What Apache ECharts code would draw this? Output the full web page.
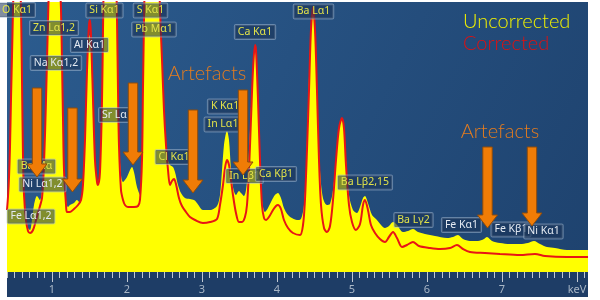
<!DOCTYPE html>
<html><head><meta charset="utf-8">
<script src="https://cdn.jsdelivr.net/npm/echarts@6/dist/echarts.min.js"></script>
<style>html,body{margin:0;padding:0;background:#fff}#c{width:600px;height:300px}</style>
</head><body><div id="c"></div><script>
// [keV, counts (arbitrary units)]
const uncorrected = [[0.400,65],[0.413,77],[0.427,97],[0.440,127],[0.453,172],[0.467,217],[0.480,262],[0.493,302],[0.533,422],[0.573,302],[0.587,262],[0.600,192],[0.613,122],[0.627,82],[0.653,57],[0.680,44],[0.707,42],[0.733,52],[0.760,67],[0.800,76],[0.840,72],[0.867,82],[0.893,112],[0.920,172],[0.947,252],[0.973,322],[1.040,472],[1.093,322],[1.120,262],[1.133,212],[1.147,152],[1.160,107],[1.187,72],[1.213,65],[1.240,67],[1.293,69],[1.333,72],[1.373,69],[1.400,77],[1.427,112],[1.453,172],[1.480,222],[1.500,237],[1.520,222],[1.547,162],[1.573,112],[1.600,92],[1.613,90],[1.640,102],[1.667,172],[1.680,242],[1.693,302],[1.773,522],[1.853,302],[1.867,252],[1.880,182],[1.893,132],[1.920,97],[1.947,90],[2.000,95],[2.040,102],[2.067,105],[2.093,100],[2.133,85],[2.173,77],[2.200,112],[2.213,182],[2.227,252],[2.240,302],[2.333,572],[2.427,302],[2.440,262],[2.467,212],[2.493,162],[2.520,127],[2.547,112],[2.573,107],[2.613,105],[2.640,100],[2.680,87],[2.720,79],[2.773,74],[2.840,73],[2.893,72],[2.933,69],[3.013,62],[3.107,62],[3.200,66],[3.240,77],[3.267,102],[3.293,127],[3.320,139],[3.333,141],[3.360,132],[3.387,102],[3.413,85],[3.453,77],[3.493,81],[3.520,79],[3.560,76],[3.587,82],[3.613,102],[3.640,142],[3.667,187],[3.693,217],[3.707,222],[3.720,217],[3.747,172],[3.773,112],[3.800,72],[3.840,60],[3.880,64],[3.933,72],[3.973,77],[4.013,79],[4.053,74],[4.093,64],[4.147,57],[4.200,54],[4.267,52],[4.320,53],[4.360,67],[4.387,102],[4.413,162],[4.440,222],[4.467,257],[4.480,263],[4.493,257],[4.520,212],[4.547,152],[4.573,102],[4.613,74],[4.667,67],[4.707,68],[4.747,82],[4.787,112],[4.827,144],[4.867,154],[4.893,144],[4.920,112],[4.960,77],[5.013,62],[5.067,59],[5.107,65],[5.147,74],[5.173,76],[5.213,69],[5.267,57],[5.333,52],[5.387,47],[5.440,44],[5.493,46],[5.547,50],[5.600,47],[5.680,40],[5.747,41],[5.813,43],[5.880,40],[5.973,38],[6.107,36],[6.267,34],[6.347,35],[6.413,37],[6.480,33],[6.573,31],[6.680,31],[6.760,33],[6.800,35],[6.867,31],[6.973,29],[7.107,28],[7.240,28],[7.347,29],[7.427,31],[7.507,28],[7.600,25],[7.707,24],[7.867,22],[8.013,22],[8.147,22]];
const corrected = [[0.400,62],[0.413,75],[0.427,95],[0.440,125],[0.453,172],[0.467,217],[0.480,262],[0.493,302],[0.533,422],[0.573,302],[0.587,262],[0.600,192],[0.613,117],[0.627,77],[0.653,52],[0.680,41],[0.707,39],[0.747,42],[0.787,52],[0.813,59],[0.840,66],[0.867,74],[0.893,107],[0.920,172],[0.947,252],[0.973,322],[1.040,472],[1.093,322],[1.120,262],[1.133,212],[1.147,152],[1.160,102],[1.187,67],[1.200,60],[1.240,60],[1.293,63],[1.347,67],[1.387,72],[1.413,87],[1.440,132],[1.467,202],[1.493,247],[1.507,252],[1.520,237],[1.547,172],[1.573,112],[1.600,90],[1.613,87],[1.640,100],[1.667,172],[1.680,242],[1.693,302],[1.773,522],[1.853,302],[1.867,252],[1.880,182],[1.893,127],[1.920,82],[1.947,72],[1.973,67],[2.013,65],[2.093,65],[2.147,66],[2.173,72],[2.200,112],[2.213,182],[2.227,252],[2.240,302],[2.333,572],[2.427,302],[2.440,262],[2.467,212],[2.493,162],[2.520,127],[2.547,102],[2.573,87],[2.600,91],[2.627,93],[2.653,88],[2.693,74],[2.733,66],[2.787,60],[2.840,55],[2.907,52],[3.013,49],[3.107,50],[3.200,53],[3.240,67],[3.280,87],[3.307,104],[3.333,112],[3.360,107],[3.387,92],[3.413,77],[3.453,59],[3.493,50],[3.533,50],[3.573,55],[3.600,67],[3.627,102],[3.653,152],[3.680,202],[3.707,227],[3.720,222],[3.747,172],[3.773,112],[3.800,67],[3.827,54],[3.853,52],[3.893,55],[3.947,62],[3.987,66],[4.013,67],[4.053,63],[4.093,52],[4.147,44],[4.213,39],[4.307,37],[4.347,47],[4.373,72],[4.400,122],[4.427,182],[4.453,242],[4.480,265],[4.507,242],[4.533,182],[4.560,112],[4.587,67],[4.627,44],[4.667,40],[4.707,46],[4.747,72],[4.787,112],[4.827,144],[4.867,154],[4.893,144],[4.920,107],[4.960,67],[5.000,50],[5.053,42],[5.107,48],[5.147,67],[5.173,72],[5.213,62],[5.253,47],[5.307,39],[5.373,33],[5.440,30],[5.493,35],[5.547,40],[5.600,34],[5.667,25],[5.733,27],[5.813,30],[5.893,26],[6.040,24],[6.173,23],[6.307,24],[6.400,27],[6.480,23],[6.573,20],[6.773,19],[6.973,18],[7.240,17],[7.440,18],[7.573,16],[7.867,15],[8.147,15]];
const majorTicks = [1,2,3,4,5,6,7,8];
const tickLabels = ['1','2','3','4','5','6','7','keV'];
// [text, keV, counts, colour kind]
const peakLabels = [
 ['O Kα1',0.533,262,'y'],['Zn Lα1,2',1.027,244,'y'],['Al Kα1',1.500,227,'w'],['Na Kα1,2',1.053,209,'w'],
 ['Si Kα1',1.700,261.5,'y'],['S Kα1',2.313,261.5,'y'],['Pb Mα1',2.360,242.5,'y'],['Sr Lα',1.833,157,'w'],
 ['Ba Lα1',4.487,260.5,'y'],['Ca Kα1',3.707,240,'y'],['K Kα1',3.307,165.5,'y'],['In Lα1',3.280,147.5,'y'],
 ['Ba Mα',0.793,105.5,'y'],['Ni Lα1,2',0.873,87.5,'w'],['Fe Lα1,2',0.720,55.5,'w'],['Cl Kα1',2.627,115,'y'],
 ['In Lβ1',3.567,96,'y'],['Ca Kβ1',3.987,98,'y'],['Ba Lβ2,15',5.173,89.5,'y'],['Ba Lγ2',5.820,52,'y'],
 ['Fe Kα1',6.460,47,'w'],['Fe Kβ1',7.120,42.5,'w'],['Ni Kα1',7.553,40.5,'w']
];
// [keV, top counts, tip counts]
const arrows = [[0.800,184,95],[1.273,164,80],[2.080,189,107],[2.880,162,79],[3.547,182,97],[6.807,125,44],[7.400,125,46]];
const notes = [['Artefacts',3.067,198],['Artefacts',6.973,140]];

const minorTicks = [];
for (let i = 4; i <= 81; i++) minorTicks.push(i / 10);

const chart = echarts.init(document.getElementById('c'), null, {renderer:'canvas'});
const X0 = 0.4, X1 = 8.147, Y1 = 270;
chart.setOption({
  animation:false,
  backgroundColor:'#ffffff',
  grid:{left:7,right:12,top:2,bottom:28},
  legend:{orient:'vertical',left:453,top:7,itemWidth:0,itemHeight:0,itemGap:2,icon:'none',selectedMode:false,
    data:[{name:'Uncorrected',textStyle:{color:'#f0f000'}},{name:'Corrected',textStyle:{color:'#e01010'}}],
    textStyle:{fontSize:20,fontFamily:'Lato',fontWeight:300}},
  xAxis:[
    {type:'value',min:X0,max:X1,axisLine:{show:false},splitLine:{show:false},
     axisTick:{show:true,customValues:minorTicks,length:6,lineStyle:{color:'#c0c8d2',width:1}},
     axisLabel:{show:false}},
    {type:'value',min:X0,max:X1,position:'bottom',axisLine:{show:false},splitLine:{show:false},
     axisTick:{show:true,customValues:majorTicks,length:10,lineStyle:{color:'#c0c8d2',width:1}},
     axisLabel:{show:true,customValues:majorTicks,formatter:v=>tickLabels[majorTicks.indexOf(v)],
       color:'#a8b6c6',fontSize:11,fontFamily:'Noto Sans',margin:12}}
  ],
  yAxis:{type:'value',min:0,max:Y1,show:false},
  series:[
    {name:'Uncorrected',type:'line',data:uncorrected,showSymbol:false,smooth:0.3,
     lineStyle:{width:0,color:'#ffff00'},itemStyle:{color:'#ffff00'},areaStyle:{color:'#ffff00',opacity:1},z:2},
    {name:'Corrected',type:'line',data:corrected,showSymbol:false,smooth:0.3,
     lineStyle:{width:2,color:'#e81515'},itemStyle:{color:'#e81515'},z:3}
  ]
});

function P(k,v){return chart.convertToPixel({xAxisIndex:0,yAxisIndex:0},[k,v]);}
const tl = P(X0,Y1), br = P(X1,0);
const g = [];
g.push({type:'rect',silent:true,z:-10,shape:{x:tl[0],y:tl[1],width:br[0]-tl[0],height:br[1]-tl[1]+25},
  style:{fill:new echarts.graphic.LinearGradient(0,0,1,1,[{offset:0,color:'#2c5c8f'},{offset:1,color:'#1e426e'}])}});
g.push({type:'rect',silent:true,z:-9,shape:{x:tl[0],y:br[1],width:br[0]-tl[0],height:25},style:{fill:'#1e3d66'}});
peakLabels.forEach(([t,k,v,c])=>{
  const p = P(k,v);
  g.push({type:'text',x:p[0],y:p[1],z:50,silent:true,style:{text:t,fill:c==='y'?'#e2e24a':'#e4eaf2',
    font:'10.5px "Noto Sans"',align:'center',verticalAlign:'middle',
    backgroundColor:'rgba(26,50,84,0.55)',borderColor:'rgba(170,190,212,0.5)',borderWidth:1,
    padding:[2,3,1,3],borderRadius:1}});
});
arrows.forEach(([k,top,tip])=>{
  const a = P(k,top), b = P(k,tip), cx = a[0], ty = a[1], py = b[1], hw = 4.7, hh = 10, hl = 13;
  g.push({type:'polygon',z:60,silent:true,shape:{points:[[cx-hw,ty],[cx+hw,ty],[cx+hw,py-hl],[cx+hh,py-hl],[cx,py],[cx-hh,py-hl],[cx-hw,py-hl]]},
    style:{fill:'#f07c06',stroke:'#8e4c0c',lineWidth:1}});
});
notes.forEach(([t,k,v])=>{
  const p = P(k,v);
  g.push({type:'text',x:p[0],y:p[1],z:55,silent:true,style:{text:t,fill:'#e47c1e',font:'300 20px Lato',align:'center',verticalAlign:'middle'}});
});
chart.setOption({graphic:g});
</script></body></html>
